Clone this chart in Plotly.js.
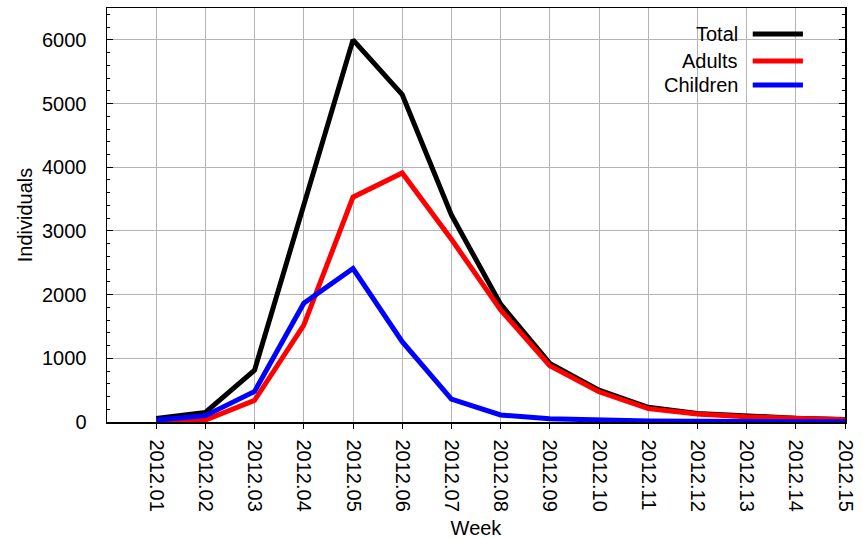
<!DOCTYPE html>
<html>
<head>
<meta charset="utf-8">
<script src="https://cdn.plot.ly/plotly-3.0.1.min.js"></script>
<style>html,body{margin:0;padding:0;background:#fff;}#chart{width:863px;height:539px;}</style>
</head>
<body>
<div id="chart"></div>
<script>
const weeks = ['2012.01','2012.02','2012.03','2012.04','2012.05','2012.06','2012.07','2012.08','2012.09','2012.10','2012.11','2012.12','2012.13','2012.14','2012.15'];
const total    = [55, 150, 815, 3400, 6000, 5140, 3250, 1850, 920, 500, 230, 135, 90, 60, 40];
const adults   = [10, 30, 340, 1520, 3530, 3910, 2870, 1760, 885, 475, 210, 125, 82, 55, 37];
const children = [30, 100, 480, 1865, 2410, 1260, 360, 110, 50, 25, 15, 10, 7, 5, 4];
const seriesNames = ['Total', 'Adults', 'Children'];
const seriesColors = ['#000000', '#ff0000', '#0000ff'];
const seriesData = [total, adults, children];

const font = {family: 'Liberation Sans, Arial, Helvetica, sans-serif', size: 20, color: '#000'};

const traces = seriesData.map((vals, i) => ({
  type: 'scatter', mode: 'lines', x: weeks, y: vals, name: seriesNames[i],
  line: {color: seriesColors[i], width: 5}, showlegend: false
}));

// custom gnuplot-style legend (text left, sample right)
const legX0 = 0.736, legX1 = 0.959, legY0 = 0.783, legY1 = 0.959;
const textRight = 0.858, sampleX0 = 0.875, sampleX1 = 0.943;
const rowY = [0.937, 0.872, 0.814];
const shapes = [{type: 'rect', xref: 'paper', yref: 'paper', x0: legX0, x1: legX1, y0: legY0, y1: legY1,
  fillcolor: '#fff', line: {width: 0}, layer: 'between'}];
const annotations = [];
seriesNames.forEach((n, i) => {
  annotations.push({xref: 'paper', yref: 'paper', x: textRight, y: rowY[i], text: n, showarrow: false,
    xanchor: 'right', yanchor: 'middle', font: font});
  shapes.push({type: 'line', xref: 'paper', yref: 'paper', x0: sampleX0, x1: sampleX1, y0: rowY[i], y1: rowY[i],
    line: {color: seriesColors[i], width: 5}});
});

const layout = {
  width: 863, height: 539,
  margin: {l: 107, r: 18, t: 8, b: 117},
  paper_bgcolor: '#fff', plot_bgcolor: '#fff',
  font: font,
  showlegend: false,
  xaxis: {
    type: 'category', range: [-1, 14],
    tickangle: 90, ticks: 'outside', ticklen: 5, tickcolor: '#000', tickwidth: 1,
    showline: true, linecolor: '#000', linewidth: 1.5, mirror: true,
    showgrid: true, gridcolor: '#b4b4b4', gridwidth: 1,
    zeroline: false, ticklabelstandoff: 7,
    tickfont: font,
    title: {text: 'Week', font: font, standoff: 11}
  },
  yaxis: {
    range: [0, 6500], dtick: 1000, tick0: 0,
    ticks: 'inside', ticklen: 6, tickcolor: '#000', tickwidth: 1,
    minor: {dtick: 200, ticks: 'inside', ticklen: 3, tickcolor: '#000', showgrid: false},
    showline: true, linecolor: '#000', linewidth: 1.5, mirror: 'ticks',
    showgrid: true, gridcolor: '#b4b4b4', gridwidth: 1,
    zeroline: false, ticklabelstandoff: 15,
    tickfont: font,
    title: {text: 'Individuals', font: font, standoff: 4}
  },
  shapes: shapes,
  annotations: annotations
};

Plotly.newPlot('chart', traces, layout, {displayModeBar: false, staticPlot: true});
</script>
</body>
</html>
